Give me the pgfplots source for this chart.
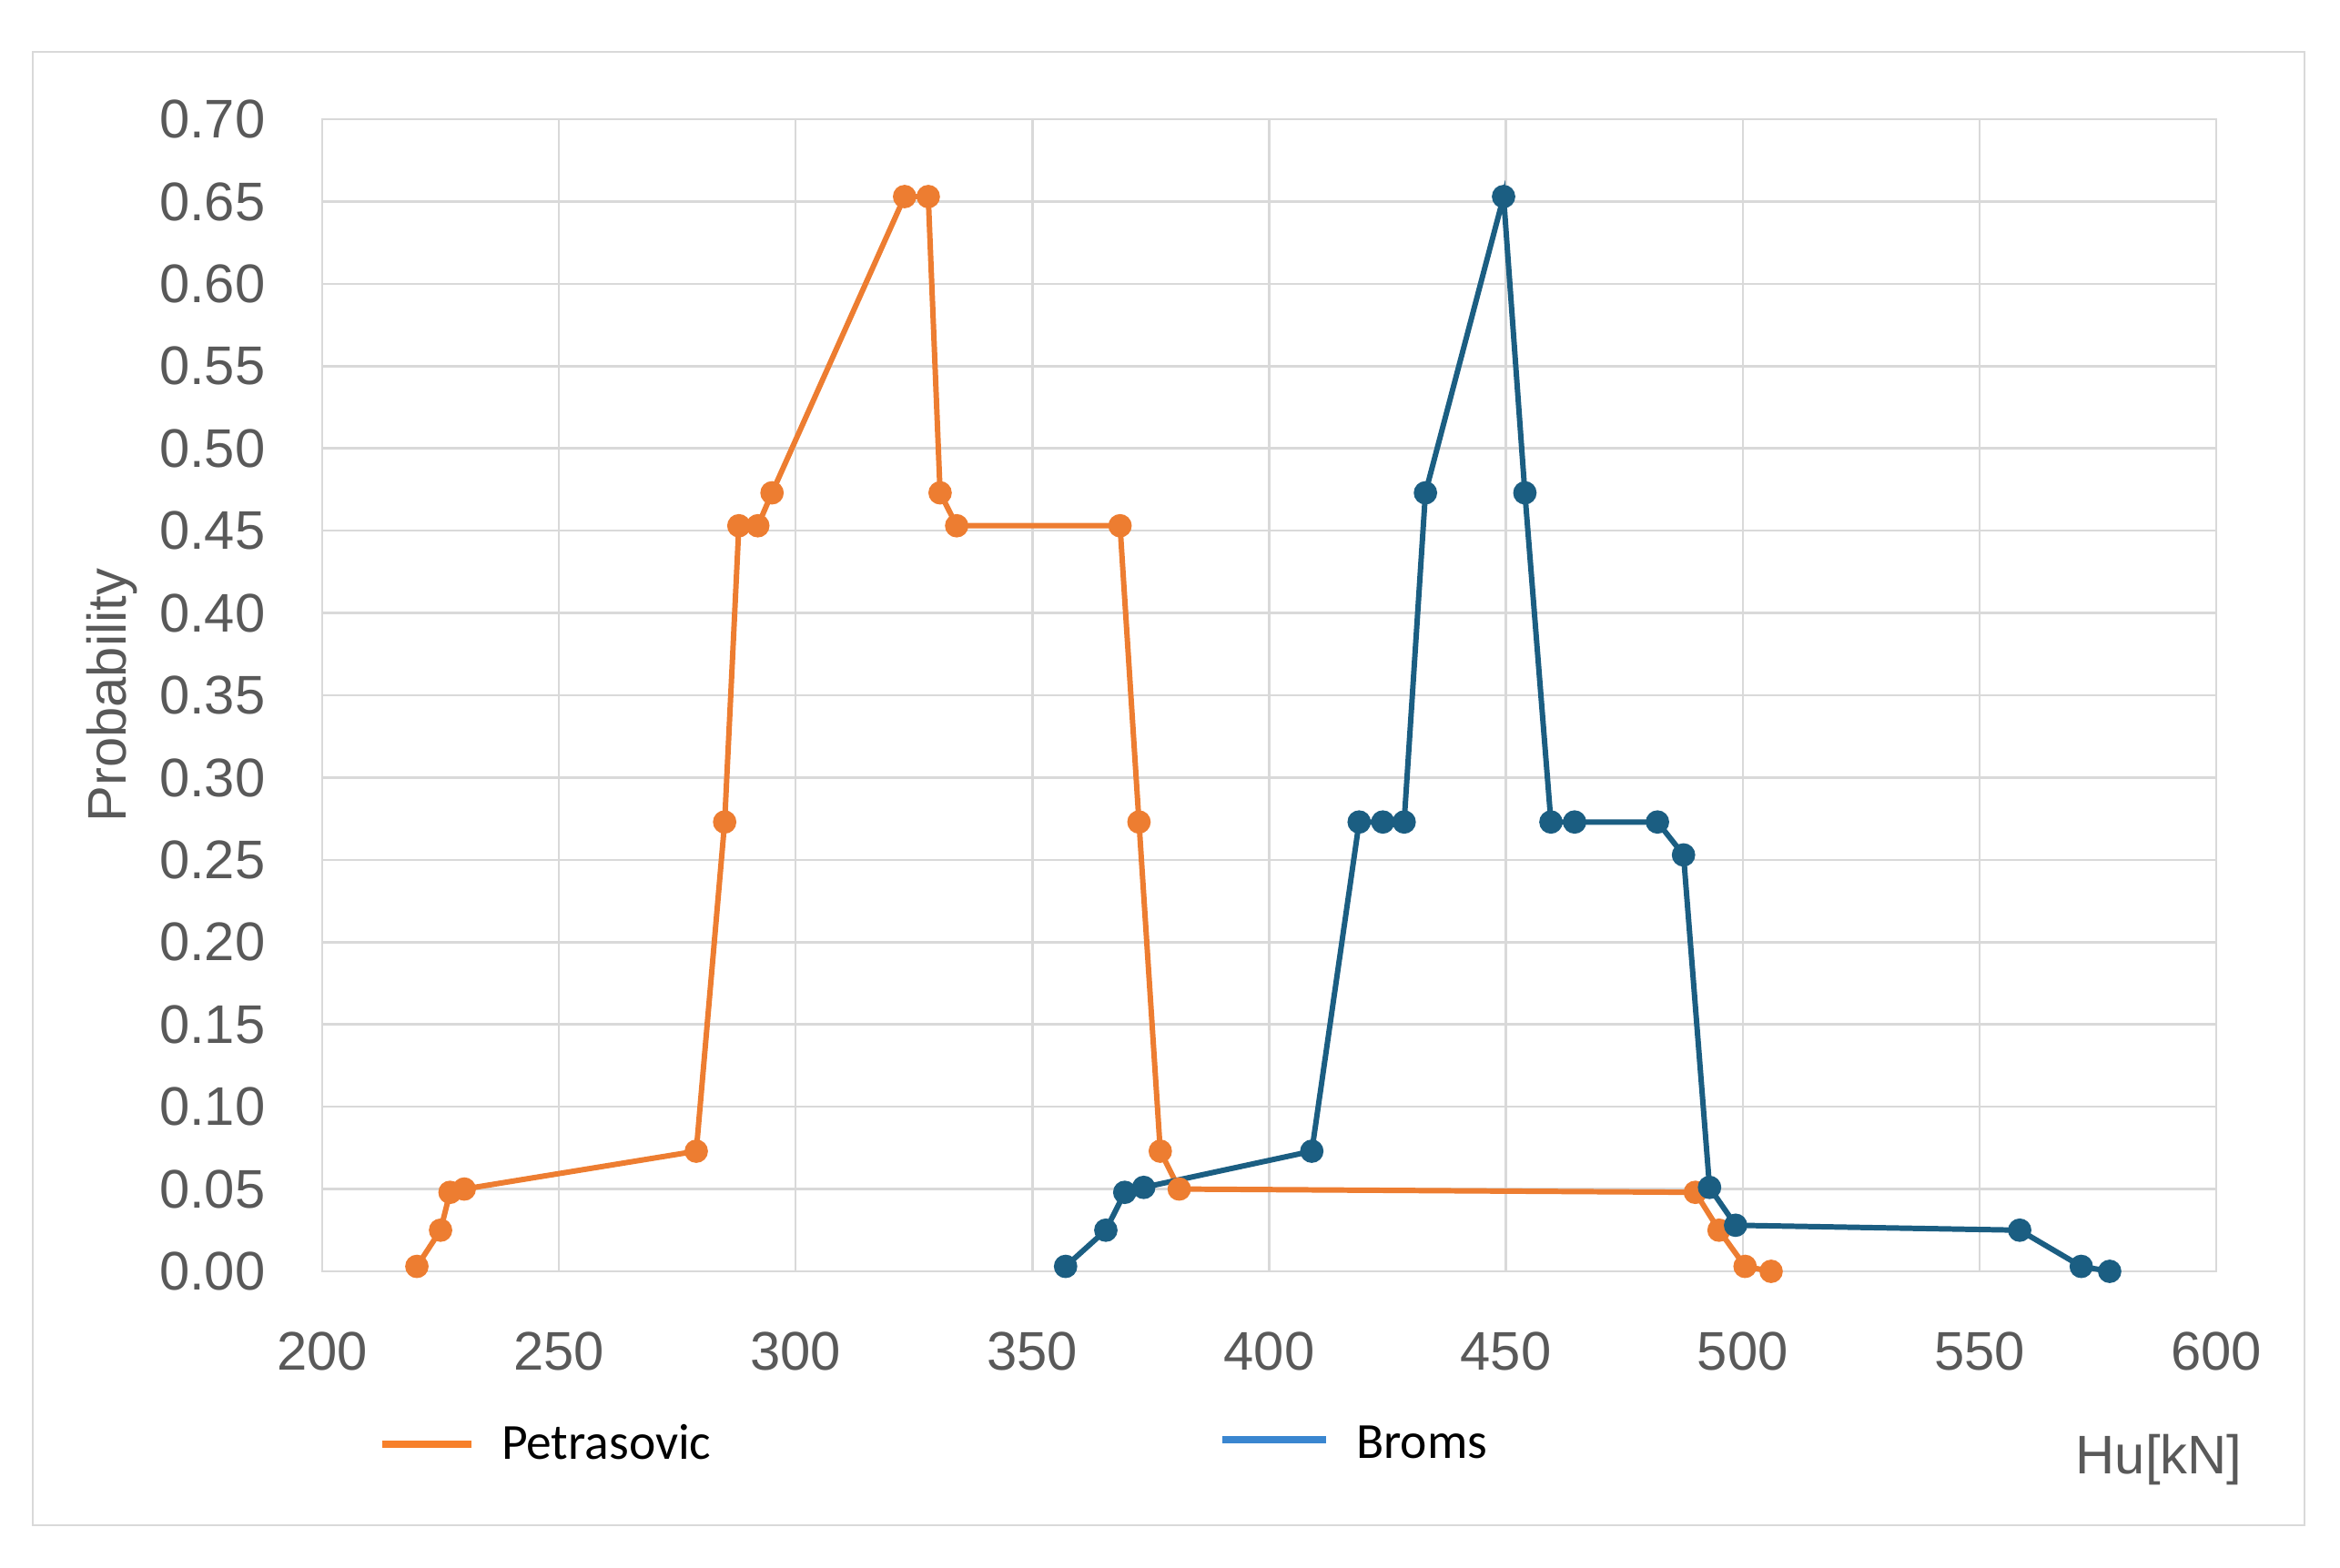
\documentclass[border=0pt]{standalone}
\usepackage{fontspec}
\setmainfont{Liberation Sans}
\newfontfamily\legfont{Carlito}
\usepackage{pgfplots}
\pgfplotsset{compat=1.18}

\definecolor{petra}{HTML}{ED7D31}
\definecolor{broms}{HTML}{1B5E82}
\definecolor{petraleg}{HTML}{F7802A}
\definecolor{bromsleg}{HTML}{3A86D0}
\definecolor{gridc}{HTML}{D9D9D9}
\definecolor{txt}{HTML}{595959}

\pgfplotstableread{
x y
220 0.003
225 0.025
227 0.048
230 0.050
279 0.073
285 0.273
288 0.453
292 0.453
295 0.473
323 0.653
328 0.653
330.5 0.473
334 0.453
368.5 0.453
372.5 0.273
377 0.073
381 0.050
490 0.048
495 0.025
500.5 0.003
506 0.000
}\petrasovic

\pgfplotstableread{
x y
357 0.003
365.5 0.025
369.5 0.048
373.5 0.051
409 0.073
419 0.273
424 0.273
428.5 0.273
433 0.473
449.5 0.653
454 0.473
459.5 0.273
464.5 0.273
482 0.273
487.5 0.253
493 0.051
498.5 0.028
558.5 0.025
571.5 0.003
577.5 0.000
}\broms

\begin{document}
\begin{tikzpicture}
% page size and outer chart frame
\path[use as bounding box] (-3.54,-3.25) rectangle (22.17,13.97);
\draw[gridc, line width=0.7pt] (-3.18,-2.79) rectangle (21.78,13.40);

\begin{axis}[
    scale only axis,
    width=20.81cm, height=12.66cm,
    xmin=200, xmax=600,
    ymin=0, ymax=0.70,
    xtick={200,250,...,600},
    ytick={0,0.05,...,0.701},
    grid=major,
    major grid style={gridc, line width=0.7pt},
    axis line style={gridc, line width=0.7pt},
    major tick length=0pt,
    /pgf/number format/assume math mode=true,
    tick label style={font=\fontsize{17}{20}\selectfont, text=txt, inner sep=0pt},
    xticklabel style={anchor=base, yshift=-1.08cm},
    yticklabel style={anchor=east, xshift=-0.62cm,
        /pgf/number format/.cd, fixed, fixed zerofill, precision=2},
    xlabel={Hu[kN]},
    xlabel style={at={(axis description cs:1.014,-0.1635)}, anchor=east,
        font=\fontsize{17}{20}\selectfont, text=txt, inner sep=0pt},
    ylabel={Probability},
    ylabel style={at={(axis description cs:-0.111,0.5)}, anchor=center,
        font=\fontsize{17}{20}\selectfont, text=txt, inner sep=0pt},
    legend style={at={(axis description cs:0.0240,-0.150)}, anchor=west,
        draw=none, fill=none, font=\legfont\fontsize{15.8}{18}\selectfont,
        legend columns=2,
        /tikz/every odd column/.append style={column sep=0.22cm},
        /tikz/every even column/.append style={column sep=5.5cm}},
    legend cell align=left,
]
\addplot[petra, line width=1.7pt, mark=*, mark size=2.8pt, forget plot]
    table[x=x, y=y] {\petrasovic};
\addplot[broms, line width=1.7pt, mark=*, mark size=2.8pt, forget plot]
    table[x=x, y=y] {\broms};

\addlegendimage{legend image code/.code={\draw[petraleg, line width=2.5pt] (0cm,0cm) -- (0.98cm,0cm);}}
\addlegendentry{Petrasovic}
\addlegendimage{legend image code/.code={\draw[bromsleg, line width=2.5pt] (0cm,0.05cm) -- (1.14cm,0.05cm);}}
\addlegendentry{Broms}
\end{axis}
\end{tikzpicture}
\end{document}
